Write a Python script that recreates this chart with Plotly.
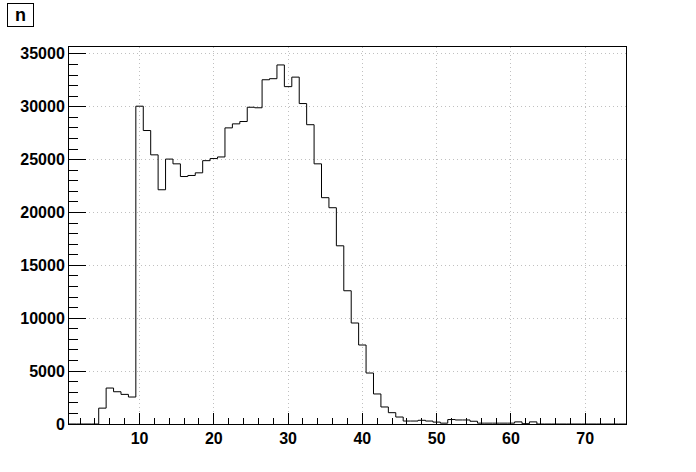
import plotly.graph_objects as go

# ---- data (bin centers, width 1) ----
bin_centers = list(range(1, 76))
counts = [0, 0, 0, 0, 1500, 3400, 3050, 2800, 2550, 30050,
          27750, 25450, 22150, 25050, 24600, 23400, 23500, 23750, 24900, 25100,
          25250, 28000, 28380, 28600, 29950, 29900, 32550, 32650, 33950, 31900,
          32800, 30300, 28300, 24600, 21400, 20450, 16850, 12600, 9550, 7470,
          4820, 2840, 1610, 1070, 660, 280, 280, 350, 280, 180,
          80, 420, 380, 380, 260, 80, 80, 80, 80, 80,
          200, 30, 200, 0, 0, 0, 0, 0, 0, 0,
          0, 0, 0, 0, 0]
x_tick_vals = [10, 20, 30, 40, 50, 60, 70]
y_tick_vals = [0, 5000, 10000, 15000, 20000, 25000, 30000, 35000]
title_text = "n"

bin_width = 1.0
edges = [c - bin_width / 2 for c in bin_centers] + [bin_centers[-1] + bin_width / 2]
step_y = counts + [counts[-1]]

x_range = [edges[0], edges[-1]]
y_max = max(counts) * 1.05

W, H = 696, 472
L, R, T, B = 69, 69.5, 46.7, 47.7
pw, ph = W - L - R, H - T - B

fig = go.Figure()
fig.add_trace(go.Scatter(x=edges, y=step_y, mode="lines", line=dict(shape="hv", color="black", width=1),
                         hoverinfo="skip", showlegend=False))

font = dict(family="Liberation Sans, Arial, sans-serif", size=16, color="black")
axis_common = dict(showline=True, linecolor="black", linewidth=1, mirror=True,
                   ticks="inside", tickcolor="black", tickwidth=1,
                   showgrid=True, gridcolor="#c0c0c0", griddash="1px,3px", gridwidth=1,
                   zeroline=False, tickfont=font)

fig.update_xaxes(range=x_range, tickmode="array", tickvals=x_tick_vals,
                 ticktext=[f"<b>{v}</b>" for v in x_tick_vals], ticklen=11,
                 minor=dict(dtick=2, tick0=0, ticks="inside", ticklen=6, tickcolor="black", showgrid=False),
                 **axis_common)
fig.update_yaxes(range=[0, y_max], tickmode="array", tickvals=y_tick_vals,
                 ticktext=[f"<b>{v}</b>" for v in y_tick_vals], ticklen=17,
                 minor=dict(dtick=1000, tick0=0, ticks="inside", ticklen=9, tickcolor="black", showgrid=False),
                 **axis_common)

fig.add_annotation(text=f"<b>{title_text}</b>", xref="paper", yref="paper",
                   x=(7 - L) / pw, y=(H - B - 3) / ph,
                   xanchor="left", yanchor="top",
                   showarrow=False, bordercolor="black", borderwidth=1, borderpad=0,
                   width=25, height=22, bgcolor="white",
                   font=dict(family="Liberation Sans, Arial, sans-serif", size=18, color="black"))

fig.update_layout(width=W, height=H, margin=dict(l=L, r=R, t=T, b=B, pad=0),
                  paper_bgcolor="white", plot_bgcolor="white", showlegend=False)

fig.write_html("out.html", config={"displayModeBar": False},
               post_script="document.body.style.margin='0';")
